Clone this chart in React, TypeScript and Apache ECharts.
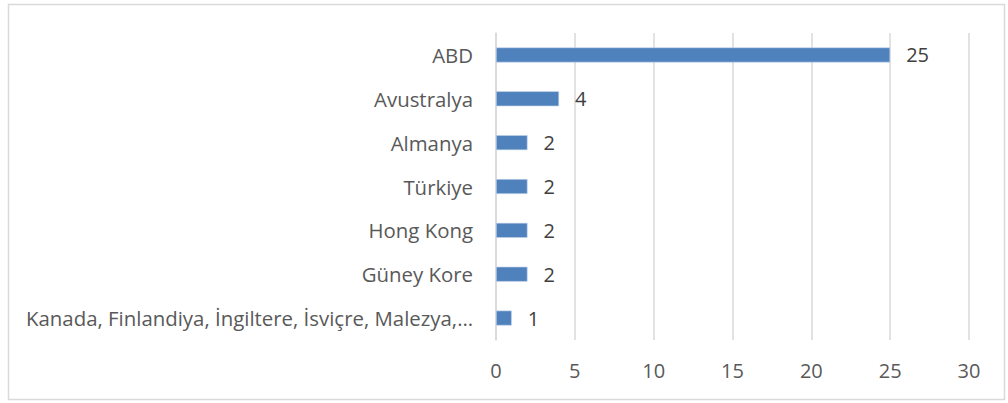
import React, { useEffect, useRef } from "react";
import * as echarts from "echarts";

const categories = [
  "ABD",
  "Avustralya",
  "Almanya",
  "Türkiye",
  "Hong Kong",
  "Güney Kore",
  "Kanada, Finlandiya, İngiltere, İsviçre, Malezya,…",
];
const values = [25, 4, 2, 2, 2, 2, 1];
const xTicks = { min: 0, max: 30, interval: 5 };

const FONT = "'Open Sans', sans-serif";
const TEXT = "#595959";
const GRID = "#d9d9d9";

export default function App() {
  const ref = useRef<HTMLDivElement>(null);
  useEffect(() => {
    document.body.style.margin = "0";
    const chart = echarts.init(ref.current!, null, { renderer: "svg" });
    chart.setOption({
      animation: false,
      textStyle: { fontFamily: FONT },
      grid: { left: 496, right: 39, top: 33, bottom: 63, containLabel: false },
      graphic: [
        {
          type: "rect",
          shape: { x: 8.5, y: 4.5, width: 996, height: 395 },
          style: { fill: "none", stroke: GRID, lineWidth: 1.5 },
          silent: true,
        },
      ],
      xAxis: {
        type: "value",
        min: xTicks.min,
        max: xTicks.max,
        interval: xTicks.interval,
        axisLine: { show: false },
        axisTick: { show: false },
        splitLine: { show: true, lineStyle: { color: GRID, width: 1.5 } },
        axisLabel: { color: TEXT, fontSize: 20, fontFamily: FONT, margin: 20 },
      },
      yAxis: {
        type: "category",
        data: categories,
        inverse: true,
        axisLine: { show: true, lineStyle: { color: GRID, width: 1.5 } },
        axisTick: { show: false },
        axisLabel: { color: TEXT, fontSize: 20.4, fontFamily: FONT, margin: 23 },
      },
      series: [
        {
          type: "bar",
          data: values,
          barWidth: 15,
          itemStyle: { color: "#4f81bd", borderColor: "#c9d7ec", borderWidth: 0.6 },
          label: {
            show: true,
            position: "right",
            distance: 16,
            color: "#404040",
            fontSize: 20,
            fontFamily: FONT,
          },
        },
      ],
    });
    return () => chart.dispose();
  }, []);
  return <div ref={ref} style={{ width: 1008, height: 403 }} />;
}
